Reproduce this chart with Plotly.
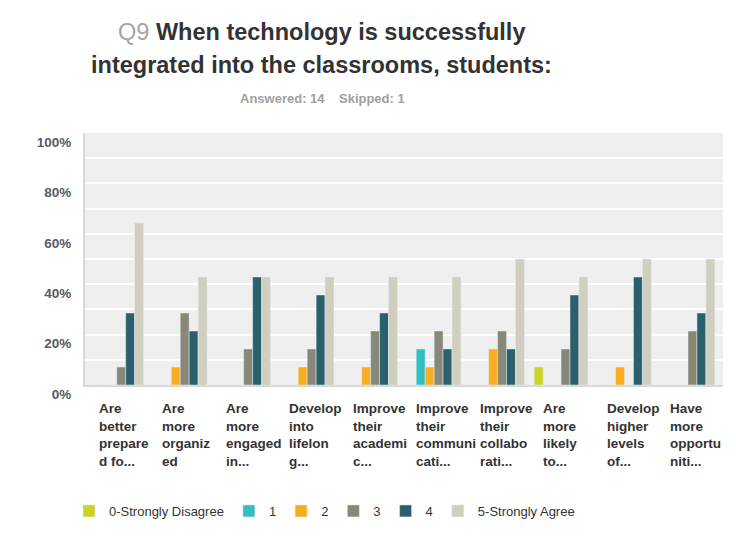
import plotly.graph_objects as go

categories = [
    "Are<br>better<br>prepare<br>d fo...",
    "Are<br>more<br>organiz<br>ed",
    "Are<br>more<br>engaged<br>in...",
    "Develop<br>into<br>lifelon<br>g...",
    "Improve<br>their<br>academi<br>c...",
    "Improve<br>their<br>communi<br>cati...",
    "Improve<br>their<br>collabo<br>rati...",
    "Are<br>more<br>likely<br>to...",
    "Develop<br>higher<br>levels<br>of...",
    "Have<br>more<br>opportu<br>niti...",
]

series_names = ["0-Strongly Disagree", "1", "2", "3", "4", "5-Strongly Agree"]
s0 = [0, 0, 0, 0, 0, 0, 0, 7.14, 0, 0]
s1 = [0, 0, 0, 0, 0, 14.29, 0, 0, 0, 0]
s2 = [0, 7.14, 0, 7.14, 7.14, 7.14, 14.29, 0, 7.14, 0]
s3 = [7.14, 28.57, 14.29, 14.29, 21.43, 21.43, 21.43, 14.29, 0, 21.43]
s4 = [28.57, 21.43, 42.86, 35.71, 28.57, 14.29, 14.29, 35.71, 42.86, 28.57]
s5 = [64.29, 42.86, 42.86, 42.86, 42.86, 42.86, 50.0, 42.86, 50.0, 50.0]
series_values = [s0, s1, s2, s3, s4, s5]
colors = ["#CDD325", "#33BFC0", "#F7AD1E", "#878877", "#2C5F6C", "#CFCEBF"]

y_ticks = [0, 20, 40, 60, 80, 100]
y_ticktext = ["<b>0%</b>", "<b>20%</b>", "<b>40%</b>", "<b>60%</b>", "<b>80%</b>", "<b>100%</b>"]

title_line1 = "<span style='color:#a6a6a6'>Q9</span> <b>When technology is successfully</b>"
title_line2 = "<b>integrated into the classrooms, students:</b>"
subtitle = "<b>Answered: 14&nbsp;&nbsp;&nbsp;&nbsp;Skipped: 1</b>"

FONT = "Arial, Liberation Sans"

fig = go.Figure()
for name, vals, col in zip(series_names, series_values, colors):
    fig.add_trace(go.Bar(x=categories, y=vals, name=name, marker=dict(color=col)))

for c in categories:
    fig.add_annotation(x=c, xref="x", y=0, yref="paper", yanchor="top", xanchor="left",
                       xshift=-20, yshift=-14, text="<b>" + c + "</b>", showarrow=False,
                       align="left", font=dict(family=FONT, size=13.5, color="#333333"))

# title and subtitle (paper coords relative to plot area)
fig.add_annotation(x=(321 - 85) / 638, xref="paper", y=(385 - 32) / 252, yref="paper", yanchor="middle",
                   text=title_line1, showarrow=False, font=dict(family=FONT, size=23.5, color="#333333"))
fig.add_annotation(x=(321 - 85) / 638, xref="paper", y=(385 - 65) / 252, yref="paper", yanchor="middle",
                   text=title_line2, showarrow=False, font=dict(family=FONT, size=23.5, color="#333333"))
fig.add_annotation(x=(322 - 85) / 638, xref="paper", y=(385 - 98) / 252, yref="paper", yanchor="middle",
                   text=subtitle, showarrow=False, font=dict(family=FONT, size=13, color="#a0a0a0"))

fig.update_layout(
    width=736, height=537,
    margin=dict(l=85, r=13, t=133, b=152),
    paper_bgcolor="white", plot_bgcolor="#efefef",
    barmode="group", bargap=0.154, bargroupgap=0,
    legend=dict(orientation="h", x=69 / 736, xref="container", xanchor="left", y=1 - 511 / 537, yref="container", yanchor="middle",
                font=dict(family=FONT, size=13, color="#333333"), itemclick=False),
    font=dict(family=FONT),
)
fig.update_xaxes(showticklabels=False, showline=True, linecolor="#d9d9d9", linewidth=2, ticks="")
fig.update_yaxes(range=[0, 100], tickvals=y_ticks, ticktext=y_ticktext, showgrid=True, gridcolor="white", gridwidth=1.5,
                 minor=dict(dtick=10, showgrid=True, gridcolor="white", gridwidth=1.5),
                 showline=True, linecolor="#d9d9d9", linewidth=2, zeroline=False,
                 ticklabelshift=9, ticklabelstandoff=9,
                 tickfont=dict(family=FONT, size=13.5, color="#555a66"))

fig.write_html("out.html")
